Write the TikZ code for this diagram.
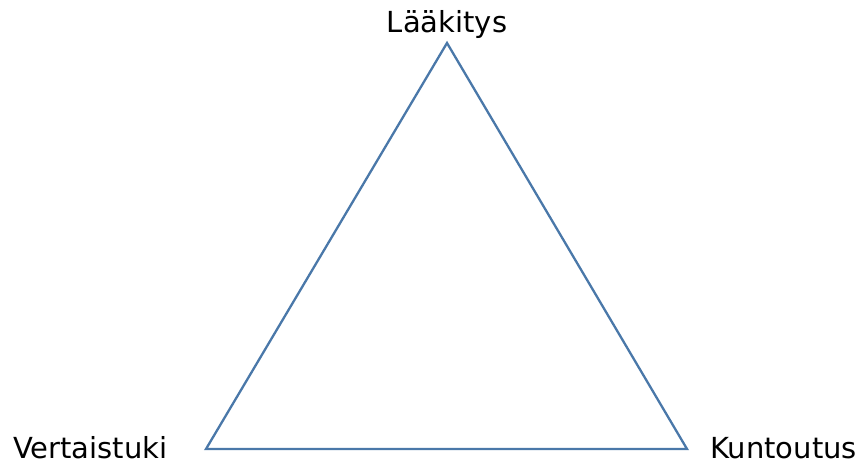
\documentclass[tikz,border=0pt]{standalone}
\usepackage{fontspec}
\setmainfont{DejaVu Sans}
\usetikzlibrary{positioning}
\definecolor{edgeblue}{HTML}{4A78A9}

\begin{document}
\begin{tikzpicture}[
        x=1pt, y=1pt,
        corner/.style={font=\fontsize{29}{33}\selectfont, inner sep=0pt},
        side/.style={draw=edgeblue, line width=2.3pt, line join=miter}
    ]
        \useasboundingbox (0,0) rectangle (861,465);

        % Corners of the triangle
        \coordinate (top) at (447,422);
        \coordinate (left) at (206,16);
        \coordinate (right) at (687,16);

        % Labels at the corners
        \node[corner, anchor=base] (laak) at (447,432) {Lääkitys};
        \node[corner, anchor=base west] (vert) at (13,6) {Vertaistuki};
        \node[corner, anchor=base east] (kunt) at (857,6) {Kuntoutus};

        % Triangle
        \draw[side] (top) -- (right) -- (left) -- cycle;
    \end{tikzpicture}
\end{document}
